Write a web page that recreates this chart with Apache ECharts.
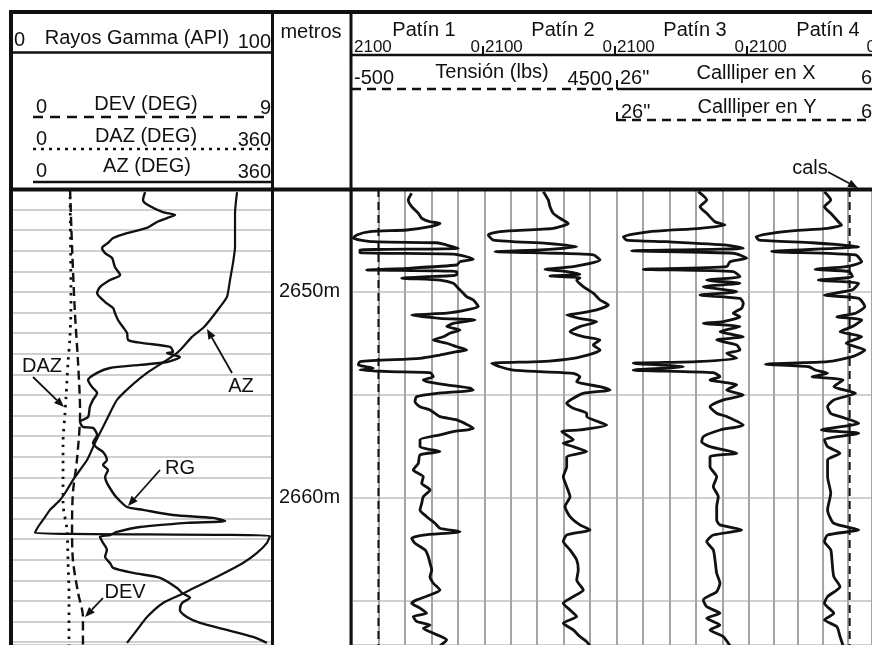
<!DOCTYPE html>
<html>
<head>
<meta charset="utf-8">
<script src="https://cdn.jsdelivr.net/npm/echarts@6/dist/echarts.min.js"></script>
<style>
  html, body { margin: 0; padding: 0; background: #fff; }
  #chart { width: 872px; height: 645px; }
</style>
</head>
<body>
<div id="chart"></div>
<script>
// depth range shown (m)
const depthTop = 2645;
const depthBottom = 2667.14;

// track 1: gamma ray (API)
const rgDepth = [2645.15,2645.53,2645.78,2646.12,2646.26,2646.41,2646.60,2646.89,2647.14,2647.38,2647.62,2647.86,2648.11,2648.35,2648.79,2649.17,2649.42,2649.76,2650.05,2650.49,2650.78,2651.02,2651.36,2651.70,2651.99,2652.33,2652.48,2652.67,2652.91,2652.96,2653.16,2653.40,2653.54,2653.69,2653.93,2654.27,2654.61,2654.90,2655.24,2655.58,2656.07,2656.31,2656.55,2656.60,2656.94,2657.33,2657.57,2657.77,2658.16,2658.40,2658.64,2658.98,2659.27,2659.76,2660.00,2660.44,2660.58,2660.83,2660.97,2661.12,2661.21,2661.41,2661.65,2661.80,2661.89,2662.18,2662.52,2662.86,2663.16,2663.40,2663.64,2663.88,2664.37,2664.61,2664.85,2665.10,2665.44,2665.78,2666.07,2666.41,2666.75,2667.04];
const rgApi = [51.2,50.4,52.3,58.1,62.8,59.7,55.8,51.9,44.2,38.8,36.8,34.5,35.7,38.4,39.5,41.5,37.6,33.7,32.6,35.7,38.8,39.5,40.7,42.6,44.2,44.6,50.4,60.9,62.0,59.7,64.7,59.7,49.2,37.6,32.6,29.1,30.6,32.6,31.0,29.8,29.1,26.0,27.1,31.0,32.6,31.0,32.6,34.9,36.4,34.9,36.8,35.7,36.4,38.8,40.3,44.2,50.4,62.0,77.5,82.2,67.4,49.2,40.3,37.6,33.7,34.9,36.4,35.7,37.6,38.8,46.5,57.0,63.6,65.5,68.6,65.5,64.7,67.4,72.5,82.9,93.0,98.4];

// azimuth (deg), wraps 0 -> 360 near 2661.8 m
const azDepth = [2645.15,2646.17,2647.82,2648.59,2649.42,2650.24,2650.73,2651.36,2651.75,2652.18,2652.67,2652.96,2653.30,2653.93,2654.61,2655.24,2655.78,2656.55,2657.33,2658.16,2658.98,2659.76,2660.10,2660.58,2661.07,2661.41,2661.70,2661.84,2662.18,2662.67,2663.16,2663.83,2664.47,2664.71,2665.10,2665.78,2666.41,2667.04];
const azDeg = [312.6,309.8,309.8,307.0,302.8,298.6,288.8,274.9,265.1,249.8,237.2,228.8,214.9,187.0,163.3,145.1,136.7,125.6,114.4,103.3,86.5,72.6,65.6,51.6,41.9,34.9,30.7,358.6,354.4,340.5,320.9,284.7,247.0,233.0,209.3,187.0,173.0,159.1];

// deviation (deg)
const devDepth = [2645.00,2647.82,2651.02,2653.45,2655.87,2658.16,2659.76,2661.41,2663.01,2664.61,2665.78,2667.14];
const devDeg = [1.99,2.06,2.16,2.27,2.34,2.23,2.09,2.06,2.09,2.27,2.44,2.44];

// deviation azimuth (deg)
const dazDepth = [2645.00,2650.49,2652.18,2653.45,2655.10,2655.87,2657.33,2658.98,2660.24,2661.55,2663.01,2664.61,2667.14];
const dazDeg = [79.5,80.9,79.5,76.7,74.0,72.6,69.8,69.8,69.8,75.3,76.7,78.1,78.1];

// pad readings, scale 2100 .. 0
const p1Depth = [2645.21,2645.53,2645.86,2646.18,2646.42,2646.59,2646.67,2646.83,2646.99,2647.07,2647.23,2647.39,2647.56,2647.61,2647.72,2647.88,2647.96,2648.09,2648.16,2648.29,2648.41,2648.53,2648.69,2648.85,2648.93,2649.01,2649.17,2649.26,2649.33,2649.42,2649.58,2649.82,2650.06,2650.23,2650.39,2650.71,2650.87,2651.03,2651.12,2651.28,2651.36,2651.52,2651.68,2651.84,2652.00,2652.17,2652.33,2652.49,2652.66,2652.82,2652.90,2653.06,2653.22,2653.38,2653.54,2653.63,2653.70,2653.79,2653.87,2653.92,2654.11,2654.27,2654.35,2654.51,2654.67,2654.76,2654.92,2655.08,2655.33,2655.57,2655.73,2656.05,2656.21,2656.62,2656.78,2656.94,2657.18,2657.51,2657.75,2657.91,2658.32,2658.64,2658.97,2659.29,2659.61,2659.94,2660.26,2660.58,2660.91,2661.23,2661.47,2661.64,2661.80,2661.96,2662.20,2662.52,2662.85,2663.17,2663.50,2663.82,2664.14,2664.47,2664.71,2664.95,2665.11,2665.35,2665.60,2665.76,2666.00,2666.17,2666.33,2666.57,2666.89,2667.18];
const p1Val = [1152,1206,1152,1047,993,861,703,861,1231,1814,2025,2079,1762,755,596,412,1973,1973,491,279,174,385,437,1231,1867,437,437,914,1311,703,491,412,333,279,174,94,279,596,1152,703,147,491,596,385,544,650,809,596,437,279,437,703,1020,1973,2000,1867,1762,1973,1497,861,809,968,914,596,226,174,755,1073,1100,1020,861,703,437,174,491,703,1020,1020,703,1020,1047,1127,968,993,861,968,993,1020,914,782,703,385,968,1152,1100,941,888,861,834,861,809,703,861,1073,1152,1020,914,1127,1073,861,968,809,596,703];

const p2Depth = [2645.13,2645.53,2645.86,2646.18,2646.42,2646.67,2646.91,2647.07,2647.23,2647.48,2647.64,2647.80,2647.96,2648.04,2648.12,2648.20,2648.45,2648.77,2648.90,2649.01,2649.14,2649.22,2649.31,2649.42,2649.74,2650.06,2650.39,2650.63,2650.87,2651.03,2651.12,2651.28,2651.44,2651.68,2651.93,2652.17,2652.33,2652.57,2652.82,2652.98,2653.22,2653.38,2653.46,2653.63,2653.79,2653.87,2653.95,2654.11,2654.35,2654.60,2654.76,2654.92,2655.16,2655.40,2655.65,2655.89,2656.05,2656.46,2656.70,2656.78,2657.18,2657.34,2657.51,2657.75,2658.00,2658.48,2658.97,2659.45,2659.94,2660.42,2660.91,2661.31,2661.55,2661.80,2662.12,2662.52,2663.01,2663.50,2663.98,2664.47,2664.79,2665.11,2665.44,2665.76,2666.08,2666.41,2666.73,2666.98,2667.18];
const p2Val = [1162,1083,1056,1004,897,765,1004,1850,2036,1956,1108,632,1215,1929,950,368,262,686,1135,791,580,1056,580,632,527,368,262,130,314,580,791,580,314,580,738,527,262,368,262,368,686,1215,1982,1850,1639,1215,686,580,632,262,103,527,686,791,686,473,473,156,580,870,686,845,686,473,791,791,845,791,738,818,738,580,421,791,845,738,632,607,632,527,686,845,738,632,845,686,580,473,421];

const p3Depth = [2645.13,2645.53,2645.86,2646.18,2646.59,2646.75,2646.91,2647.07,2647.32,2647.48,2647.56,2647.72,2647.88,2648.00,2648.12,2648.36,2648.53,2648.77,2648.90,2649.01,2649.26,2649.42,2649.58,2649.74,2649.99,2650.15,2650.31,2650.55,2650.79,2651.03,2651.20,2651.44,2651.52,2651.68,2651.93,2652.17,2652.33,2652.57,2652.82,2652.98,2653.22,2653.38,2653.46,2653.63,2653.79,2653.92,2654.11,2654.27,2654.51,2654.76,2655.00,2655.24,2655.57,2655.89,2656.05,2656.46,2656.70,2657.02,2657.27,2657.51,2657.83,2658.00,2658.48,2658.97,2659.45,2659.94,2660.42,2661.07,2661.31,2661.55,2661.80,2662.12,2662.52,2663.01,2663.66,2664.14,2664.55,2664.95,2665.28,2665.60,2665.84,2666.17,2666.41,2666.73,2667.18];
const p3Val = [801,668,774,668,536,377,774,1568,1992,1938,1303,350,87,1859,245,33,298,350,1674,245,139,668,139,722,191,774,139,87,112,245,139,404,722,139,457,87,509,191,139,350,191,827,1833,1039,1833,563,457,615,191,350,87,404,615,509,350,87,457,722,747,615,191,615,615,509,563,484,509,509,457,112,563,668,563,536,509,457,509,722,668,457,668,457,615,404,298];

const p4Depth = [2645.13,2645.53,2645.86,2646.18,2646.59,2646.75,2646.91,2647.07,2647.32,2647.48,2647.61,2647.80,2648.04,2648.20,2648.53,2648.77,2648.90,2649.01,2649.26,2649.42,2649.58,2649.90,2650.15,2650.31,2650.71,2651.03,2651.20,2651.36,2651.68,2651.93,2652.17,2652.49,2652.82,2653.14,2653.38,2653.51,2653.63,2653.79,2653.95,2654.11,2654.27,2654.60,2654.92,2655.24,2655.57,2655.89,2656.05,2656.37,2656.70,2656.86,2657.18,2657.51,2657.83,2658.16,2658.97,2659.77,2660.58,2661.23,2661.55,2661.80,2662.12,2662.52,2663.17,2663.82,2664.31,2664.79,2665.11,2665.60,2665.92,2666.25,2666.73,2667.18];
const p4Val = [810,703,810,703,572,519,757,1497,1974,1921,1021,227,1710,281,175,440,969,386,333,916,227,333,810,227,122,281,599,175,333,545,175,440,122,333,757,1815,1075,969,757,1021,492,651,281,651,757,703,545,227,862,227,810,757,545,757,757,703,757,651,227,757,810,703,678,651,545,757,810,651,810,599,545,492];

// cable tension (lbs) and calipers (in)
const tensionDepth = [2645, 2667.14];
const tensionLbs = [0, 0];
const calsDepth = [2645, 2667.14];
const calsIn = [7.75, 7.75];

const FONT = '"Liberation Sans", Arial, sans-serif';
const INK = '#111';

function pairs(vals, depths) {
    return vals.map((v, i) => [v, depths[i]]);
}

function txt(text, x, y, align, size) {
    return {
        type: 'text', z: 100, x: x, y: y,
        style: {
            text: text, font: (size || 20) + 'px ' + FONT, fill: INK,
            textAlign: align || 'left', textVerticalAlign: 'middle',
            align: align || 'left', verticalAlign: 'middle'
        }
    };
}

function seg(x1, y1, x2, y2, w, dash) {
    return {
        type: 'line', z: 100,
        shape: { x1: x1, y1: y1, x2: x2, y2: y2 },
        style: { stroke: INK, lineWidth: w || 2, lineDash: dash || null }
    };
}

function arrow(x1, y1, x2, y2) {
    const a = Math.atan2(y2 - y1, x2 - x1);
    const L = 10, W = 4;
    const bx = x2 - L * Math.cos(a), by = y2 - L * Math.sin(a);
    const px = -Math.sin(a) * W, py = Math.cos(a) * W;
    return [
        seg(x1, y1, bx, by, 1.8),
        { type: 'polygon', z: 100, shape: { points: [[x2, y2], [bx + px, by + py], [bx - px, by - py]] }, style: { fill: INK } }
    ];
}

const chartDom = document.getElementById('chart');
const myChart = echarts.init(chartDom);

const padLeft = [352, 484.25, 616.5, 748.75];
const padW = 132.25;

const grids = [
    { left: 13, top: 189, width: 258, bottom: 0 },      // track 1
    { left: 273, top: 189, width: 78, bottom: 0 },      // depth column
];
padLeft.forEach(l => grids.push({ left: l, top: 189, width: padW, bottom: 0 }));
grids.push({ left: 352, top: 189, width: 264.5, bottom: 0 });   // tension
grids.push({ left: 616.5, top: 189, width: 264.5, bottom: 0 }); // calipers

const hiddenX = (grid, min, max, inverse) => ({
    type: 'value', gridIndex: grid, min: min, max: max, inverse: !!inverse, show: false
});

const xAxes = [
    hiddenX(0, 0, 100),      // 0 RG
    hiddenX(0, 0, 9),        // 1 DEV
    hiddenX(0, 0, 360),      // 2 DAZ / AZ
    hiddenX(1, 0, 1)         // 3 depth column
];
padLeft.forEach((l, i) => xAxes.push({
    type: 'value', gridIndex: 2 + i, min: 0, max: 2100, interval: 420, inverse: true,
    axisLine: { show: false }, axisTick: { show: false }, axisLabel: { show: false },
    splitLine: { show: true, lineStyle: { color: '#a4a4a4', width: 2 } }
}));
xAxes.push(hiddenX(6, -500, 4500));     // 8 tension
xAxes.push(hiddenX(7, 6, 26, true));    // 9 caliper

const yBase = { type: 'value', min: depthTop, max: depthBottom, inverse: true,
    axisLine: { show: false }, axisTick: { show: false }, axisLabel: { show: false } };

const yAxes = [
    Object.assign({}, yBase, { gridIndex: 0, interval: 1,
        splitLine: { show: true, lineStyle: { color: '#cfcfcf', width: 2 } } }),
    Object.assign({}, yBase, { gridIndex: 1, interval: 5, splitLine: { show: false },
        axisLabel: { show: true, inside: true, margin: 6, fontSize: 20, fontFamily: FONT, color: INK,
            verticalAlign: 'middle',
            formatter: v => (Math.round(v) % 10 === 0 ? Math.round(v) + 'm' : '') } })
];
padLeft.forEach((l, i) => yAxes.push(Object.assign({}, yBase, { gridIndex: 2 + i, interval: 5,
    splitLine: { show: true, lineStyle: { color: '#cfcfcf', width: 2 } } })));
yAxes.push(Object.assign({}, yBase, { gridIndex: 6, splitLine: { show: false } }));
yAxes.push(Object.assign({}, yBase, { gridIndex: 7, splitLine: { show: false } }));

const curve = (name, x, y, data, style, smooth) => ({
    name: name, type: 'line', xAxisIndex: x, yAxisIndex: y, data: data,
    showSymbol: false, symbol: 'none', silent: true, clip: true, smooth: smooth || false,
    lineStyle: Object.assign({ color: INK, width: 2.4, join: 'round' }, style || {})
});

const series = [
    curve('RG', 0, 0, pairs(rgApi, rgDepth), { width: 2.4 }, 0.25),
    curve('AZ', 2, 0, pairs(azDeg, azDepth), { width: 2.2 }, 0.2),
    curve('DEV', 1, 0, pairs(devDeg, devDepth), { width: 2.4, type: [9, 5] }, 0.3),
    curve('DAZ', 2, 0, pairs(dazDeg, dazDepth), { width: 2.8, type: [2.5, 5.5] }, 0.3),
    curve('Patín 1', 4, 2, pairs(p1Val, p1Depth), { width: 2.8 }, 0.2),
    curve('Patín 2', 5, 3, pairs(p2Val, p2Depth), { width: 2.8 }, 0.2),
    curve('Patín 3', 6, 4, pairs(p3Val, p3Depth), { width: 2.8 }, 0.2),
    curve('Patín 4', 7, 5, pairs(p4Val, p4Depth), { width: 2.8 }, 0.2),
    curve('Tensión', 8, 6, pairs(tensionLbs, tensionDepth), { width: 2, type: [8, 5] }),
    curve('cals', 9, 7, pairs(calsIn, calsDepth), { width: 2, type: [8, 5] })
];

// frame and header
const graphic = [
    seg(10, 12, 872, 12, 4),
    seg(11, 10, 11, 645, 4),
    seg(272.5, 12, 272.5, 645, 3),
    seg(351, 12, 351, 645, 3),
    seg(9, 189.5, 872, 189.5, 4),
    seg(11, 52.5, 272, 52.5, 2.5),
    seg(351, 55, 872, 55, 2.5),

    txt('0', 14, 40, 'left', 20),
    txt('Rayos Gamma (API)', 137, 38, 'center', 20),
    txt('100', 271, 42, 'right', 20),

    txt('0', 36, 107, 'left', 20),
    txt('DEV (DEG)', 146, 104, 'center', 20),
    txt('9', 271, 108, 'right', 20),
    seg(33, 117, 271, 117, 2.5, [10, 7]),
    txt('0', 36, 139, 'left', 20),
    txt('DAZ (DEG)', 146, 136, 'center', 20),
    txt('360', 271, 140, 'right', 20),
    seg(33, 149, 271, 149, 2.5, [3, 5]),
    txt('0', 36, 171, 'left', 20),
    txt('AZ (DEG)', 147, 166, 'center', 20),
    txt('360', 271, 172, 'right', 20),
    seg(33, 182, 271, 182, 2.5),

    txt('metros', 311, 32, 'center', 20),

    txt('Patín 1', 424, 30, 'center', 20),
    txt('Patín 2', 563, 30, 'center', 20),
    txt('Patín 3', 695, 30, 'center', 20),
    txt('Patín 4', 828, 30, 'center', 20),
    txt('2100', 354, 47, 'left', 17),
    txt('0', 480, 47, 'right', 17),
    seg(483, 46, 483, 54, 2),
    txt('2100', 485, 47, 'left', 17),
    txt('0', 612, 47, 'right', 17),
    seg(615, 46, 615, 54, 2),
    txt('2100', 617, 47, 'left', 17),
    txt('0', 744, 47, 'right', 17),
    seg(747, 46, 747, 54, 2),
    txt('2100', 749, 47, 'left', 17),
    txt('0', 876, 47, 'right', 17),

    txt('-500', 354, 78, 'left', 20),
    txt('Tensión (lbs)', 492, 72, 'center', 20),
    txt('4500', 612, 79, 'right', 20),
    seg(352, 89, 613, 89, 2.5, [9, 6]),
    seg(617, 80, 617, 89, 2),
    txt('26"', 620, 78, 'left', 20),
    txt('Callliper en X', 756, 73, 'center', 20),
    txt('6', 861, 78, 'left', 20),
    seg(617, 89, 872, 89, 2.5),

    seg(617, 112, 617, 121, 2),
    txt('26"', 621, 112, 'left', 20),
    txt('Callliper en Y', 757, 107, 'center', 20),
    txt('6', 861, 112, 'left', 20),
    seg(617, 120, 872, 120, 2.5, [9, 6]),

    txt('cals', 810, 168, 'center', 20),
    ...arrow(828, 172, 858, 188),

    txt('DAZ', 42, 366, 'center', 20),
    ...arrow(33, 377, 64, 407),
    txt('AZ', 241, 386, 'center', 20),
    ...arrow(232, 373, 207, 329),
    txt('RG', 180, 468, 'center', 20),
    ...arrow(160, 470, 128, 506),
    txt('DEV', 125, 592, 'center', 20),
    ...arrow(103, 598, 85, 617)
];

const option = {
    animation: false,
    backgroundColor: '#fff',
    grid: grids,
    xAxis: xAxes,
    yAxis: yAxes,
    series: series,
    graphic: graphic
};
myChart.setOption(option);
</script>
</body>
</html>
